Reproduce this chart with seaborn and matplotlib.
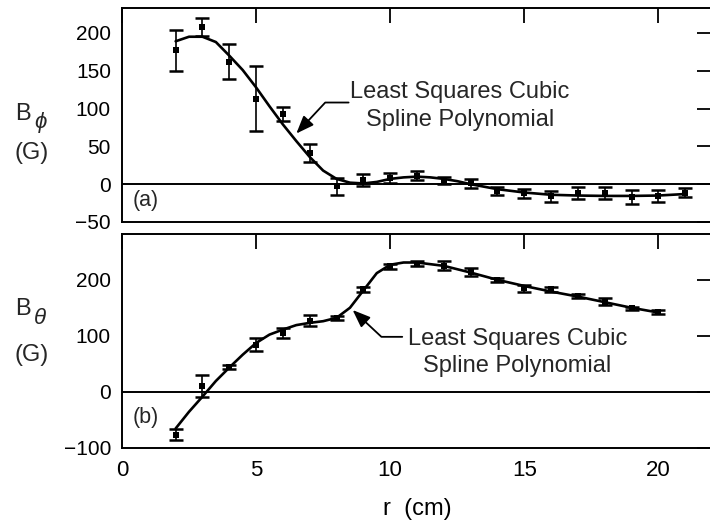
import matplotlib
matplotlib.use("Agg")
import matplotlib.pyplot as plt
import seaborn as sns
import pandas as pd
import numpy as np

# Measured field profiles versus minor radius
r_phi = [2, 3, 4, 5, 6, 7, 8, 9, 10, 11, 12, 13, 14, 15, 16, 17, 18, 19, 20, 21]
b_phi = [177, 208, 162, 113, 93, 41, -3, 6, 8, 11, 5, 1, -9, -12, -16, -12, -12, -17, -16, -11]
b_phi_err = [27, 12, 23, 43, 9, 12, 11, 8, 7, 6, 5, 6, 5, 6, 7, 8, 8, 9, 8, 6]

r_theta = [2, 3, 4, 5, 6, 7, 8, 9, 10, 11, 12, 13, 14, 15, 16, 17, 18, 19, 20]
b_theta = [-77, 10, 44, 84, 105, 127, 132, 183, 224, 229, 225, 214, 200, 185, 183, 171, 161, 149, 142]
b_theta_err = [10, 19, 4, 12, 9, 10, 4, 5, 4, 4, 8, 7, 4, 6, 5, 4, 6, 3, 4]

# Least squares cubic spline fits, sampled along r
r_phi_fit = [2, 2.5, 3, 3.5, 4, 4.5, 5, 5.5, 6, 6.5, 7, 7.5, 8, 8.5, 9, 9.5, 10,
             10.5, 11, 11.5, 12, 12.5, 13, 14, 15, 16, 17, 18, 19, 20, 21]
b_phi_fit = [189, 195, 195, 188, 170, 151, 128, 103, 79, 57, 36, 18, 7, 2, 1, 3, 7,
             9, 10, 9, 7, 4, 0, -6.6, -11, -14, -15, -15.5, -15.5, -15, -13]

r_theta_fit = [2, 2.5, 3, 3.5, 4, 4.5, 5, 5.5, 6, 6.5, 7, 7.5, 8, 8.5, 9, 9.5, 10,
               10.5, 11, 12, 13, 14, 15, 16, 17, 18, 19, 20]
b_theta_fit = [-66, -36, -9, 19, 43, 66, 87, 102, 111, 119, 123, 126, 132, 150, 181, 212, 227,
               231, 231, 225, 213, 200, 189, 179, 170, 160, 150, 141.5]

x_ticks = [0, 5, 10, 15, 20]
phi_ticks = [-50, 0, 50, 100, 150, 200]
theta_ticks = [-100, 0, 100, 200]

sns.set_theme(style="white")
plt.rcParams["font.family"] = ["Liberation Sans", "DejaVu Sans"]

W, H = 710, 526
fig = plt.figure(figsize=(W / 100, H / 100), dpi=100)
fig.patch.set_facecolor("white")


def px_axes(left, top, right, bottom):
    return fig.add_axes([left / W, 1 - bottom / H, (right - left) / W, (bottom - top) / H])


ax1 = px_axes(122, 8, 712, 222)
ax2 = px_axes(122, 234, 712, 447.5)

df_phi = pd.DataFrame({"r": r_phi, "b": b_phi, "err": b_phi_err})
df_phi_fit = pd.DataFrame({"r": r_phi_fit, "b": b_phi_fit})
df_theta = pd.DataFrame({"r": r_theta, "b": b_theta, "err": b_theta_err})
df_theta_fit = pd.DataFrame({"r": r_theta_fit, "b": b_theta_fit})

for ax, d, dfit in ((ax1, df_phi, df_phi_fit), (ax2, df_theta, df_theta_fit)):
    ax.axhline(0, color="black", lw=1.4, zorder=1)
    sns.lineplot(data=dfit, x="r", y="b", ax=ax, color="black", lw=1.9, zorder=3)
    ax.errorbar(d["r"], d["b"], yerr=d["err"], fmt="none", ecolor="black",
                elinewidth=1.2, capsize=5, capthick=1.8, zorder=4)
    sns.scatterplot(data=d, x="r", y="b", ax=ax, color="black", marker="s", s=14,
                    edgecolor="black", linewidth=0, zorder=5)
    ax.set_xlim(0, 22)
    ax.set_xticks(x_ticks)
    ax.set_xlabel("")
    ax.set_ylabel("")
    ax.tick_params(direction="in", top=True, right=True, length=11, width=1.3,
                   color="black", pad=8, labelsize=15, labelcolor="black")
    for s in ax.spines.values():
        s.set_visible(True)
        s.set_color("black")
        s.set_linewidth(1.4)

ax1.set_ylim(-50, 233)
ax1.set_yticks(phi_ticks)
ax1.set_yticklabels(["\u221250", "0", "50", "100", "150", "200"])
ax1.set_xticklabels([])

ax2.set_ylim(-100, 282)
ax2.set_yticks(theta_ticks)
ax2.set_yticklabels(["\u2212100", "0", "100", "200"])
ax2.set_xticklabels([str(t) for t in x_ticks])
ax2.tick_params(axis="x", labelsize=16, pad=9)
ax2.set_xlabel("r  (cm)", fontsize=17, labelpad=12, color="black")

# Panel tags
ax1.text(0.4, -22, "(a)", fontsize=15.5, ha="left", va="center")
ax2.text(0.4, -47, "(b)", fontsize=15.5, ha="left", va="center")

# Fit annotations
arrow_kw = dict(arrowstyle="-|>,head_length=0.9,head_width=0.35", color="black",
                lw=1.3, shrinkA=0, shrinkB=0)
ax1.annotate("", xy=(6.5, 67), xytext=(8.45, 108),
             arrowprops=dict(connectionstyle="angle,angleA=0,angleB=47,rad=0", **arrow_kw))
ax1.text(12.6, 104, "Least Squares Cubic\nSpline Polynomial", fontsize=17,
         ha="center", va="center", linespacing=1.35)

ax2.annotate("", xy=(8.6, 146), xytext=(10.45, 98),
             arrowprops=dict(connectionstyle="angle,angleA=0,angleB=-43,rad=0", **arrow_kw))
ax2.text(14.75, 70, "Least Squares Cubic\nSpline Polynomial", fontsize=17,
         ha="center", va="center", linespacing=1.35)

# Axis titles written horizontally at the left, with a large italic subscript
def field_label(sym, y_b, y_sub, y_g):
    fig.text(15 / W, 1 - y_b / H, "B", fontsize=17, ha="left", va="baseline")
    fig.text(34 / W, 1 - y_sub / H, sym, fontsize=16, style="italic",
             family=["Liberation Sans", "DejaVu Sans"], ha="left", va="baseline")
    fig.text(15 / W, 1 - y_g / H, "(G)", fontsize=17, ha="left", va="baseline")


field_label("\u03d5", 120, 128, 159)
field_label("\u03b8", 315, 324, 361)

fig.savefig("out.png", dpi=100, facecolor="white")
